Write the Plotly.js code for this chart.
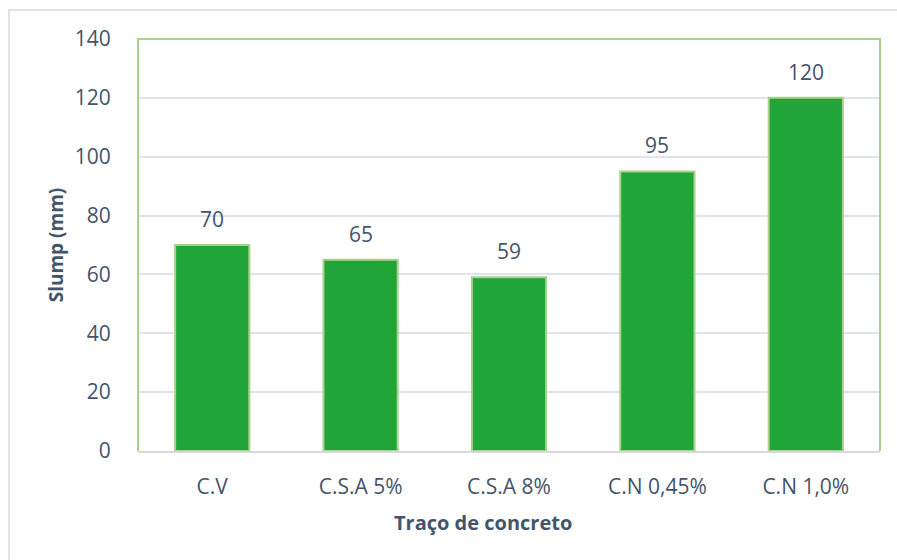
<!DOCTYPE html>
<html>
<head>
<meta charset="utf-8">
<script src="https://cdn.plot.ly/plotly-3.0.1.min.js"></script>
<style>html,body{margin:0;padding:0;background:#fff;}#chart{width:897px;height:560px;}</style>
</head>
<body>
<div id="chart"></div>
<script>
const categories = ["C.V", "C.S.A 5%", "C.S.A 8%", "C.N 0,45%", "C.N 1,0%"];
const slumpValues = [70, 65, 59, 95, 120];
const yTickValues = [0, 20, 40, 60, 80, 100, 120, 140];
const xTitle = "Traço de concreto";
const yTitle = "Slump (mm)";

const textColor = "#44546A";
const fontFamily = "'Open Sans', 'Liberation Sans', sans-serif";

const trace = {
  type: "bar",
  x: categories,
  y: slumpValues,
  marker: { color: "#22A538", line: { color: "#A9D18E", width: 2 } },
  hoverinfo: "skip"
};

const annotations = categories.map((c, i) => ({
  x: c, y: slumpValues[i], xref: "x", yref: "y",
  text: String(slumpValues[i]), showarrow: false,
  yanchor: "bottom", yshift: 10,
  font: { family: fontFamily, size: 21, color: textColor }
}));
annotations.push({
  x: 0.465, y: (451 - 522) / 412, xref: "paper", yref: "paper", yanchor: "middle", xanchor: "center",
  text: "<b>" + xTitle + "</b>", showarrow: false,
  font: { family: fontFamily, size: 20, color: textColor }
});

const layout = {
  width: 897, height: 560,
  margin: { l: 138, r: 17, t: 39, b: 109, pad: 0 },
  paper_bgcolor: "#fff", plot_bgcolor: "#fff",
  bargap: 0.5,
  showlegend: false,
  font: { family: fontFamily, size: 20, color: textColor },
  xaxis: {
    type: "category",
    showline: true, linecolor: "#D9D9D9", linewidth: 2,
    ticks: "outside", ticklen: 16, tickcolor: "rgba(0,0,0,0)",
    tickfont: { family: fontFamily, size: 21, color: textColor },
    fixedrange: true
  },
  yaxis: {
    range: [0, 140], tickvals: yTickValues, ticktext: yTickValues.map(String),
    showgrid: true, gridcolor: "#E1E4EA", gridwidth: 2,
    zeroline: false, showline: false,
    ticks: "outside", ticklen: 22, tickcolor: "rgba(0,0,0,0)",
    tickfont: { family: fontFamily, size: 21, color: textColor },
    title: { text: "<b>" + yTitle + "</b>", font: { family: fontFamily, size: 19, color: textColor }, standoff: 6 },
    fixedrange: true
  },
  shapes: [
    { type: "rect", xref: "paper", yref: "paper", x0: -0.1739, x1: 1.05, y0: -0.3, y1: 1.0704,
      line: { color: "#D9D9D9", width: 1.5 }, layer: "below" },
    { type: "path", xref: "paper", yref: "paper",
      path: "M 0 0 L 0 1 L 1 1 L 1 0", line: { color: "#A9D18E", width: 2 }, layer: "above" }
  ],
  annotations: annotations
};

Plotly.newPlot("chart", [trace], layout, { staticPlot: true, displayModeBar: false });
</script>
</body>
</html>
